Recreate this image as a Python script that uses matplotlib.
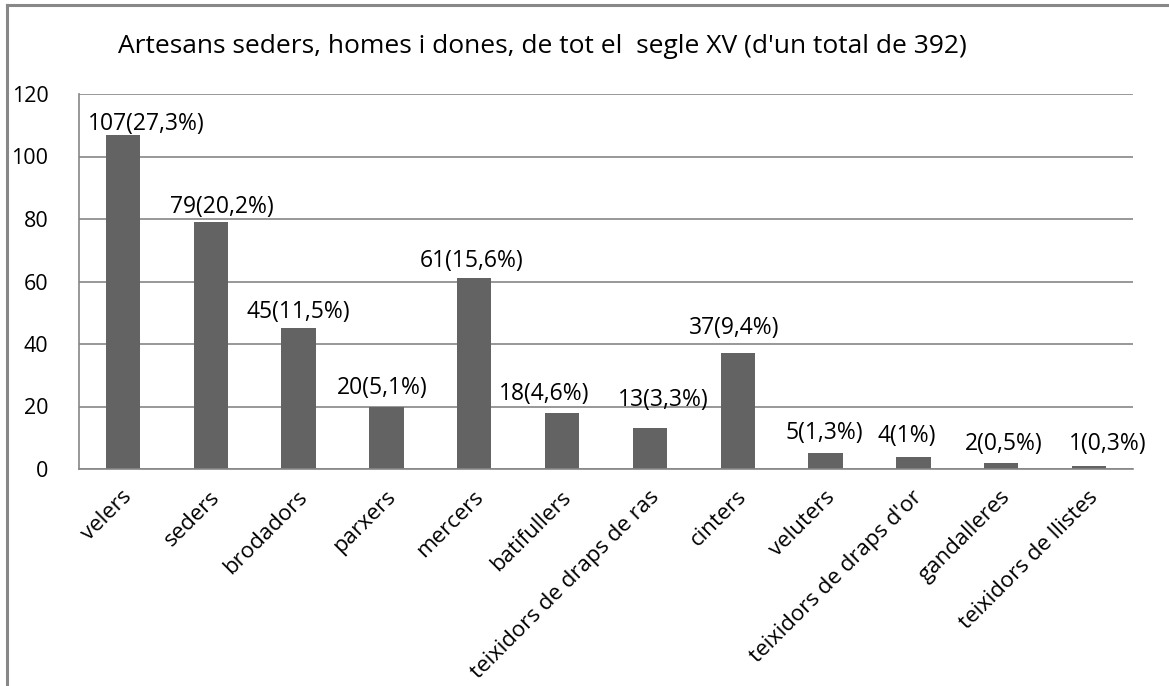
import matplotlib.pyplot as plt
import matplotlib.transforms as mtransforms
from matplotlib.lines import Line2D

plt.rcParams['font.family'] = ['Open Sans', 'DejaVu Sans']

# --- data ---
categories = ['velers', 'seders', 'brodadors', 'parxers', 'mercers', 'batifullers',
              'teixidors de draps de ras', 'cinters', 'veluters',
              "teixidors de draps d'or", 'gandalleres', 'teixidors de llistes']
counts = [107, 79, 45, 20, 61, 18, 13, 37, 5, 4, 2, 1]
percents = ['27,3', '20,2', '11,5', '5,1', '15,6', '4,6', '3,3', '9,4', '1,3', '1', '0,5', '0,3']
yticks = [0, 20, 40, 60, 80, 100, 120]
title = "Artesans seders, homes i dones, de tot el  segle XV (d'un total de 392)"

# label nudges (pixels) from bar top, as placed in the original
label_nudge = [(23, 5), (11, 9), (0, 10), (-4, 12), (-3, 11), (-18, 13),
               (13, 22), (-4, 19), (-1, 14), (-7, 14), (3, 13), (19, 16)]

W, H, DPI = 1169, 686, 100
fig = plt.figure(figsize=(W / DPI, H / DPI), dpi=DPI)
fig.patch.set_facecolor('white')

# plot area in pixel coords: x 79..1133, y 94..469 (from top)
left, right, top, bottom = 79, 1133, 94, 469
ax = fig.add_axes([left / W, 1 - bottom / H, (right - left) / W, (bottom - top) / H])

bar_color = '#636363'
grid_color = '#868686'

x = list(range(len(categories)))
ax.bar(x, counts, width=0.39, color=bar_color, zorder=2)
ax.set_xlim(-0.5, len(categories) - 0.5)
ax.set_ylim(0, 120)
ax.set_yticks(yticks)
ax.set_yticklabels([str(v) for v in yticks], fontsize=15.5)
ax.yaxis.grid(True, color=grid_color, linewidth=1.2, zorder=0)
ax.tick_params(axis='both', length=0)
ax.tick_params(axis='y', pad=22)

for s in ['top', 'right']:
    ax.spines[s].set_visible(False)
for s in ['left', 'bottom']:
    ax.spines[s].set_color(grid_color)
    ax.spines[s].set_linewidth(1.2)

ax.set_xticks(x)
ax.set_xticklabels(categories, rotation=45, ha='right', va='center',
                   rotation_mode='anchor', fontsize=16)
ax.tick_params(axis='x', pad=18)
shift = mtransforms.ScaledTranslation(6 / DPI, 0, fig.dpi_scale_trans)
for lbl in ax.get_xticklabels():
    lbl.set_transform(lbl.get_transform() + shift)

for xi, c, p, (dx, dy) in zip(x, counts, percents, label_nudge):
    ax.annotate(f'{c}({p}%)', xy=(xi, c), xytext=(dx, dy), textcoords='offset pixels',
                ha='center', va='baseline', fontsize=16.5, color='black')

fig.text(118 / W, 1 - 53 / H, title, fontsize=19, ha='left', va='baseline')

# outer frame (left and top edges visible)
fig.add_artist(Line2D([7 / W, 7 / W], [0, 1 - 5 / H], transform=fig.transFigure,
                      color='#888888', linewidth=2.2))
fig.add_artist(Line2D([7 / W, 1], [1 - 5 / H, 1 - 5 / H], transform=fig.transFigure,
                      color='#888888', linewidth=2.2))

fig.savefig('out.png', dpi=DPI, facecolor='white')
